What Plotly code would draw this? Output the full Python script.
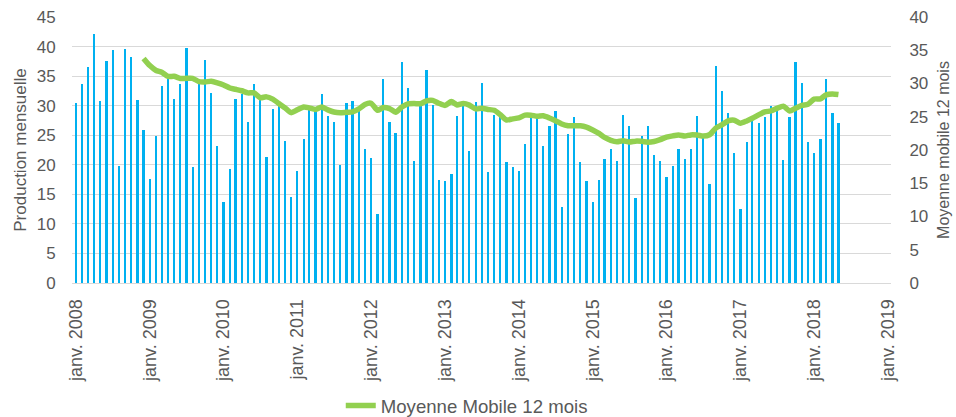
import plotly.graph_objects as go

# Monthly production, Jan 2008 .. May 2018
production = [
    30.5, 33.7, 36.6, 42.1, 30.8, 37.6, 39.5, 19.8, 39.6, 38.2, 31.0, 25.8,
    17.6, 24.9, 33.4, 34.5, 31.1, 33.7, 39.8, 19.7, 33.7, 37.7, 32.1, 23.1,
    13.7, 19.3, 31.1, 31.9, 27.3, 33.6, 31.1, 21.3, 29.5, 30.0, 24.1, 14.5,
    18.9, 24.4, 29.4, 29.1, 31.9, 28.2, 27.2, 20.0, 30.4, 30.8, 29.3, 22.6,
    21.1, 11.6, 34.5, 27.2, 25.4, 37.4, 33.0, 20.6, 30.0, 36.0, 30.1, 17.5,
    17.2, 18.5, 28.3, 30.0, 22.4, 30.6, 33.9, 18.7, 28.4, 28.2, 20.4, 19.6,
    18.9, 23.6, 28.2, 28.0, 23.2, 26.6, 29.1, 12.8, 25.2, 28.0, 20.4, 17.3,
    13.7, 17.4, 21.0, 22.7, 20.7, 28.5, 26.6, 14.4, 24.9, 26.5, 21.7, 20.6,
    18.0, 19.8, 22.6, 20.9, 22.7, 28.2, 24.8, 16.8, 36.7, 32.5, 28.8, 22.0,
    12.5, 23.9, 27.4, 27.1, 28.1, 30.0, 29.3, 20.8, 28.1, 37.4, 33.9, 23.9,
    22.0, 24.4, 34.5, 28.8, 27.0,
]

# 12-month moving average, Dec 2008 .. May 2018
moyenne_mobile = [
    33.77,
    32.69, 31.96, 31.69, 31.06, 31.08, 30.76, 30.78, 30.78, 30.28, 30.24, 30.33, 30.11,
    29.78, 29.32, 29.13, 28.91, 28.59, 28.58, 27.86, 27.99, 27.64, 27.00, 26.33, 25.62,
    26.05, 26.48, 26.33, 26.10, 26.48, 26.03, 25.71, 25.60, 25.68, 25.74, 26.18, 26.85,
    27.03, 25.97, 26.39, 26.23, 25.69, 26.46, 26.94, 26.99, 26.96, 27.39, 27.46, 27.03,
    26.71, 27.28, 26.77, 27.00, 26.75, 26.18, 26.26, 26.10, 25.97, 25.32, 24.51, 24.68,
    24.83, 25.25, 25.24, 25.08, 25.14, 24.81, 24.41, 23.92, 23.65, 23.63, 23.63, 23.44,
    23.01, 22.49, 21.89, 21.45, 21.24, 21.40, 21.19, 21.33, 21.30, 21.18, 21.28, 21.56,
    21.92, 22.12, 22.25, 22.10, 22.27, 22.24, 22.09, 22.29, 23.28, 23.78, 24.37, 24.48,
    24.03, 24.37, 24.77, 25.28, 25.73, 25.88, 26.26, 26.59, 25.88, 26.28, 26.71, 26.87,
    27.66, 27.70, 28.29, 28.43, 28.34,
]

months = [f"{2008 + i // 12}-{i % 12 + 1:02d}-01" for i in range(len(production))]
ma_months = months[len(months) - len(moyenne_mobile):]

tick_years = list(range(2008, 2020))
tick_vals = [f"{y}-01-01" for y in tick_years]
tick_text = [f"janv. {y}" for y in tick_years]

TXT = "#595959"
FONT = "Liberation Sans, Arial, sans-serif"

fig = go.Figure()
fig.add_trace(go.Bar(
    x=months, y=production, name="Production mensuelle",
    marker=dict(color="#00B0F0", line=dict(width=0)),
    width=11 * 86400000, showlegend=False,
))
fig.add_trace(go.Scatter(
    x=ma_months, y=moyenne_mobile, name="Moyenne Mobile 12 mois",
    yaxis="y2", mode="lines",
    line=dict(color="#92D050", width=5.5, shape="spline", smoothing=0.6),
))

fig.update_layout(
    width=956, height=417,
    margin=dict(l=72, r=65, t=17, b=134, autoexpand=False),
    paper_bgcolor="white", plot_bgcolor="white",
    font=dict(family=FONT, color=TXT, size=17),
    showlegend=True,
    legend=dict(orientation="h", x=0.482, xanchor="center", y=-0.462, yanchor="middle",
                font=dict(size=18.6, color=TXT), bgcolor="rgba(0,0,0,0)"),
    xaxis=dict(
        type="date", range=["2007-12-13", "2019-01-16"], automargin=False,
        tickvals=tick_vals, ticktext=tick_text, tickangle=-90,
        tickfont=dict(size=18, color=TXT), showgrid=False,
        showline=True, linecolor="#D9D9D9", linewidth=1, ticks="outside",
        ticklen=8, tickcolor="rgba(0,0,0,0)",
    ),
    yaxis=dict(
        range=[0, 45], dtick=5, showgrid=True, gridcolor="#D9D9D9", gridwidth=1,
        zeroline=False, showline=False, ticks="outside", ticklen=12,
        tickcolor="rgba(0,0,0,0)", automargin=False,
        tickfont=dict(size=17, color=TXT),
        title=dict(text="Production mensuelle", font=dict(size=17, color=TXT), standoff=5),
    ),
    yaxis2=dict(
        range=[0, 40], dtick=5, overlaying="y", side="right", showgrid=False,
        zeroline=False, showline=False, ticks="outside", ticklen=14,
        tickcolor="rgba(0,0,0,0)", automargin=False,
        tickfont=dict(size=17, color=TXT),
        title=dict(text="Moyenne mobile 12 mois", font=dict(size=16, color=TXT), standoff=10),
    ),
    bargap=0,
)

fig.write_html(
    "out.html",
    config={"displayModeBar": False},
    post_script="document.body.style.margin='0';document.body.style.padding='0';",
)
